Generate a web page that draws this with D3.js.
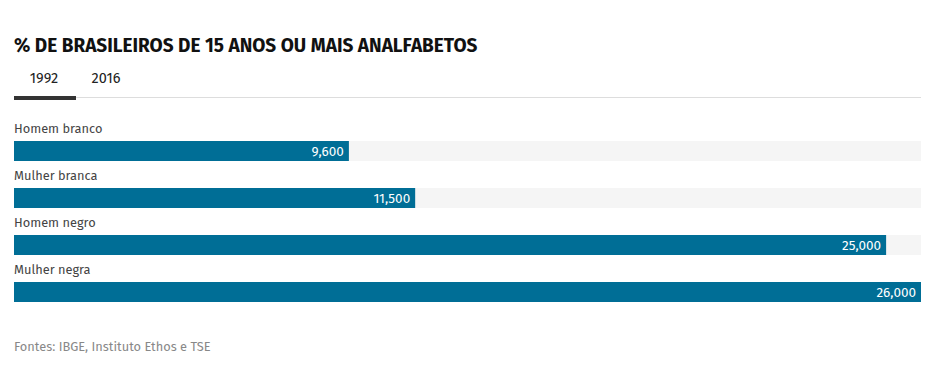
<!DOCTYPE html>
<html>
<head>
<meta charset="utf-8">
<script src="https://cdn.jsdelivr.net/npm/d3@7"></script>
<style>
  body { margin: 0; background: #fff; }
  text { font-family: "Fira Sans", "Open Sans", sans-serif; }
</style>
</head>
<body>
<div id="chart"></div>
<script>
'use strict';

var categories = ['Homem branco', 'Mulher branca', 'Homem negro', 'Mulher negra'];
var values1992 = [9600, 11500, 25000, 26000];
var tabs = ['1992', '2016'];
var title = '% DE BRASILEIROS DE 15 ANOS OU MAIS ANALFABETOS';
var source = 'Fontes: IBGE, Instituto Ethos e TSE';

var w = 941, h = 375;
var left = 14, right = 921;

var svg = d3.select('#chart').append('svg').attr('width', w).attr('height', h);

svg.append('text')
    .attr('x', left).attr('y', 52)
    .attr('font-size', 19)
    .attr('font-weight', 700)
    .attr('fill', '#111')
    .text(title);

// tabs
var tabX = d3.scalePoint().domain(tabs).range([44, 106]);
svg.selectAll('.tab').data(tabs).enter().append('text')
    .attr('class', 'tab')
    .attr('x', function (d) { return tabX(d); })
    .attr('y', 83)
    .attr('text-anchor', 'middle')
    .attr('font-size', 14.5)
    .attr('fill', '#222')
    .text(function (d) { return d; });

svg.append('rect').attr('x', left).attr('y', 97).attr('width', right - left).attr('height', 1).attr('fill', '#ddd');
svg.append('rect').attr('x', left).attr('y', 96).attr('width', 62).attr('height', 4).attr('fill', '#333');

var x = d3.scaleLinear().domain([0, d3.max(values1992)]).range([left, right]);
var y = d3.scaleBand().domain(categories).range([118, 306]).paddingInner(0);

var rows = svg.selectAll('.row').data(categories).enter().append('g')
    .attr('class', 'row')
    .attr('transform', function (d) { return 'translate(0,' + y(d) + ')'; });

rows.append('text')
    .attr('x', left).attr('y', 15)
    .attr('font-size', 12.8)
    .attr('fill', '#444')
    .text(function (d) { return d; });

rows.append('rect')
    .attr('x', left).attr('y', 23)
    .attr('width', right - left).attr('height', 20)
    .attr('fill', '#f5f5f5');

rows.append('rect')
    .attr('x', left).attr('y', 23)
    .attr('width', function (d, i) { return x(values1992[i]) - left; })
    .attr('height', 20)
    .attr('fill', '#006e96');

rows.append('text')
    .attr('x', function (d, i) { return x(values1992[i]) - 5; })
    .attr('y', 38)
    .attr('text-anchor', 'end')
    .attr('font-size', 13.5)
    .attr('fill', '#fff')
    .text(function (d, i) { return d3.format(',')(values1992[i]); });

svg.append('text')
    .attr('x', left).attr('y', 351)
    .attr('font-size', 12.8)
    .attr('fill', '#888')
    .text(source);
</script>
</body>
</html>
